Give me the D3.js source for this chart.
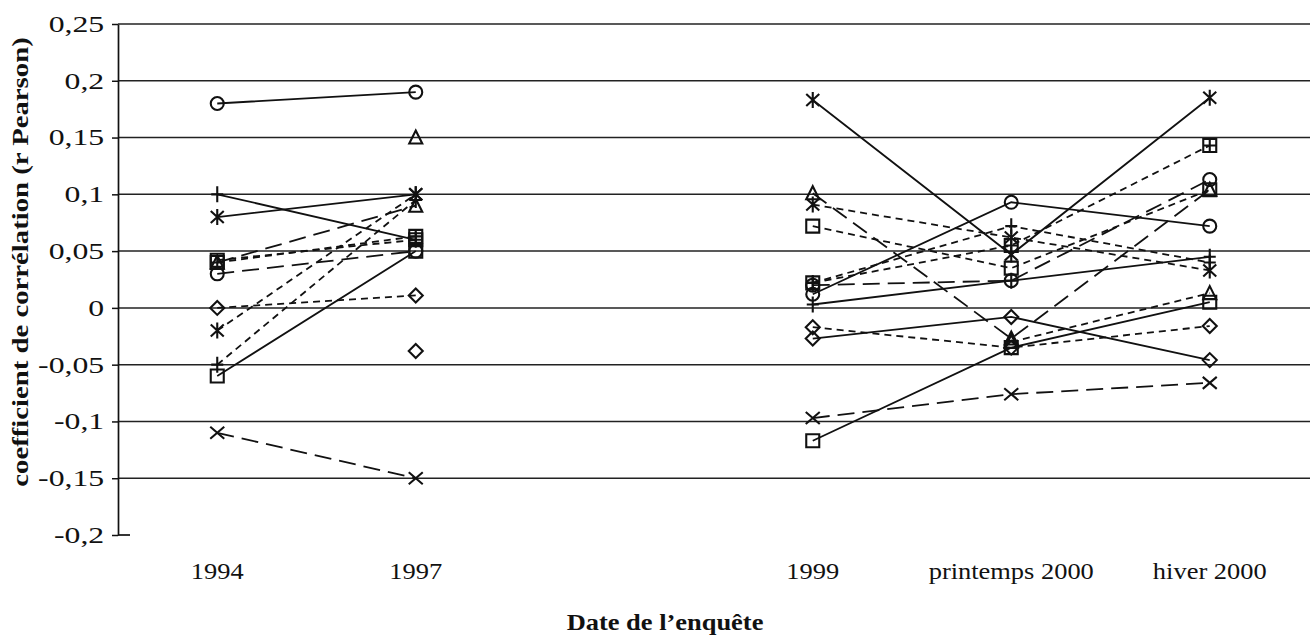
<!DOCTYPE html>
<html>
<head>
<meta charset="utf-8">
<script src="https://cdn.jsdelivr.net/npm/d3@7"></script>
<style>
  body { margin: 0; background: #fff; }
  svg { display: block; }
  text { font-family: "Liberation Serif", "DejaVu Serif", serif; fill: #111; }
</style>
</head>
<body>
<div id="chart"></div>
<script>
// categories (empty slot between 1997 and 1999 as in the original axis)
const categories = ["1994", "1997", "", "1999", "printemps 2000", "hiver 2000"];
const yTicks = [-0.2, -0.15, -0.1, -0.05, 0, 0.05, 0.1, 0.15, 0.2, 0.25];

// one array per series, values for each category slot (null = no value)
const circleSolid   = [0.18, 0.19, null, 0.012, 0.093, 0.072];
const plusSolid     = [0.10, 0.06, null, 0.003, 0.024, 0.045];
const starSolid     = [0.08, 0.10, null, 0.183, 0.047, 0.185];
const squareSolid   = [-0.06, 0.05, null, -0.117, -0.035, 0.005];
const diamondSolid  = [null, -0.038, null, -0.027, -0.008, -0.046];
const triangleSolid = [null, 0.15, null, null, null, null];
const crossLong     = [-0.11, -0.15, null, -0.097, -0.076, -0.066];
const circleLong    = [0.03, 0.05, null, 0.02, 0.024, 0.113];
const triangleLong  = [0.04, 0.09, null, 0.101, -0.027, 0.104];
const boxShort      = [0.04, 0.063, null, 0.022, 0.055, 0.143];
const squareShort   = [0.042, 0.06, null, 0.072, 0.035, 0.104];
const diamondShort  = [0, 0.011, null, -0.017, -0.035, -0.016];
const starShort     = [-0.02, 0.10, null, 0.091, 0.062, 0.033];
const plusShort     = [-0.05, 0.095, null, 0.022, 0.072, 0.04];
const triangleShort = [null, null, null, null, -0.03, 0.013];

const series = [
  {values: circleSolid,   marker: "circle",   dash: "solid"},
  {values: plusSolid,     marker: "plus",     dash: "solid"},
  {values: starSolid,     marker: "star",     dash: "solid"},
  {values: squareSolid,   marker: "square",   dash: "solid"},
  {values: diamondSolid,  marker: "diamond",  dash: "solid"},
  {values: triangleSolid, marker: "triangle", dash: "solid"},
  {values: crossLong,     marker: "cross",    dash: "long"},
  {values: circleLong,    marker: "circle",   dash: "long"},
  {values: triangleLong,  marker: "triangle", dash: "long"},
  {values: boxShort,      marker: "box",      dash: "short"},
  {values: squareShort,   marker: "square",   dash: "short"},
  {values: diamondShort,  marker: "diamond",  dash: "short"},
  {values: starShort,     marker: "star",     dash: "short"},
  {values: plusShort,     marker: "plus",     dash: "short"},
  {values: triangleShort, marker: "triangle", dash: "short"}
];

const dashes = {solid: null, short: "7,5", long: "17,8"};

const width = 1313, height = 639;
const svg = d3.select("#chart").append("svg")
  .attr("width", width)
  .attr("height", height);

const x = d3.scalePoint()
  .domain(categories)
  .range([118, 1309])
  .padding(0.5);

const y = d3.scaleLinear()
  .domain([-0.2, 0.25])
  .range([535, 24]);

const fmt = d => String(+d.toFixed(2)).replace(".", ",");

// gridlines
svg.append("g")
  .selectAll("line")
  .data(yTicks.filter(d => d > -0.2))
  .join("line")
    .attr("x1", 118)
    .attr("x2", 1310)
    .attr("y1", d => y(d))
    .attr("y2", d => y(d))
    .attr("stroke", "#222")
    .attr("stroke-width", 1.5);

// y axis
const yAxis = svg.append("g")
  .attr("transform", "translate(118,0)")
  .call(d3.axisLeft(y).tickValues(yTicks).tickFormat(fmt).tickSizeInner(6).tickSizeOuter(0).tickPadding(4));
yAxis.select(".domain").attr("stroke", "#111").attr("stroke-width", 1.7);
yAxis.selectAll(".tick line").attr("stroke", "#111").attr("stroke-width", 1.5);
yAxis.selectAll(".tick text")
  .style("font-size", "23px")
  .style("font-family", "Liberation Serif, serif")
  .attr("fill", "#111")
  .attr("transform", "scale(1.38,1)");

// small stub at the bottom corner
svg.append("line")
  .attr("x1", 118).attr("x2", 130)
  .attr("y1", y(-0.2)).attr("y2", y(-0.2))
  .attr("stroke", "#111").attr("stroke-width", 1.7);

// x category labels
svg.append("g")
  .selectAll("text")
  .data(categories.filter(c => c !== ""))
  .join("text")
    .attr("transform", d => `translate(${x(d)},579) scale(1.15,1)`)
    .attr("text-anchor", "middle")
    .style("font-size", "23px")
    .text(d => d);

// axis titles
svg.append("text")
  .attr("transform", "translate(665,630) scale(1.15,1)")
  .attr("text-anchor", "middle")
  .style("font-size", "23px")
  .style("font-weight", "bold")
  .text("Date de l\u2019enquête");

svg.append("text")
  .attr("transform", "translate(28,262) rotate(-90) scale(1.25,1)")
  .attr("text-anchor", "middle")
  .style("font-size", "23px")
  .style("font-weight", "bold")
  .text("coefficient de corrélation (r Pearson)");

// lines
const line = d3.line()
  .defined(d => d.v != null)
  .x(d => x(d.c))
  .y(d => y(d.v));

const plot = svg.append("g");

series.forEach(s => {
  const pts = s.values.map((v, i) => ({c: categories[i], v: v}));
  plot.append("path")
    .datum(pts)
    .attr("d", line)
    .attr("fill", "none")
    .attr("stroke", "#111")
    .attr("stroke-width", 1.8)
    .attr("stroke-dasharray", dashes[s.dash]);
});

// marker shapes
function markerPath(type) {
  const p = d3.path();
  switch (type) {
    case "circle":
      p.moveTo(6.5, 0); p.arc(0, 0, 6.5, 0, 2 * Math.PI); break;
    case "square":
      p.rect(-6.5, -6.5, 13, 13); break;
    case "box":
      p.rect(-6.5, -6.5, 13, 13);
      p.moveTo(0, -6.5); p.lineTo(0, 6.5);
      p.moveTo(-6.5, 0); p.lineTo(6.5, 0); break;
    case "triangle":
      p.moveTo(0, -7); p.lineTo(6.5, 6); p.lineTo(-6.5, 6); p.closePath(); break;
    case "diamond":
      p.moveTo(0, -7); p.lineTo(7, 0); p.lineTo(0, 7); p.lineTo(-7, 0); p.closePath(); break;
    case "cross":
      p.moveTo(-7, -6); p.lineTo(7, 6);
      p.moveTo(-7, 6); p.lineTo(7, -6); break;
    case "plus":
      p.moveTo(0, -8); p.lineTo(0, 8);
      p.moveTo(-6, 0); p.lineTo(6, 0); break;
    case "star":
      p.moveTo(-6.5, -6); p.lineTo(6.5, 6);
      p.moveTo(-6.5, 6); p.lineTo(6.5, -6);
      p.moveTo(0, -8); p.lineTo(0, 8); break;
  }
  return p.toString();
}

series.forEach(s => {
  const pts = s.values.map((v, i) => ({c: categories[i], v: v})).filter(d => d.v != null);
  plot.append("g")
    .selectAll("path")
    .data(pts)
    .join("path")
      .attr("transform", d => `translate(${x(d.c)},${y(d.v)})`)
      .attr("d", markerPath(s.marker))
      .attr("fill", "none")
      .attr("stroke", "#111")
      .attr("stroke-width", 2.1);
});
</script>
</body>
</html>
